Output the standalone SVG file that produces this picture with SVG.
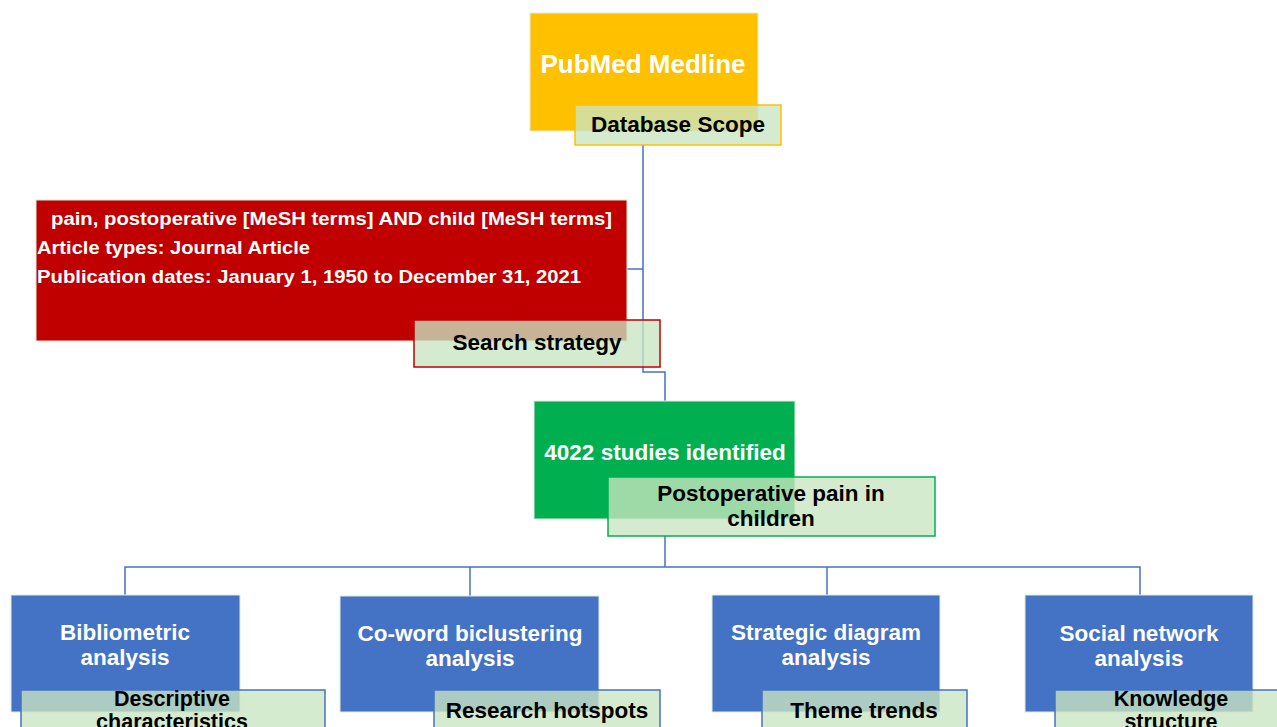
<svg xmlns="http://www.w3.org/2000/svg" width="1277" height="727" viewBox="0 0 1277 727">
<style>
.box{stroke:#e2ecd8;stroke-width:1}
.lbl{fill:#c9e6c2;fill-opacity:0.78;stroke-width:1.5}
.wt{font-family:"Liberation Sans",Arial,sans-serif;font-weight:bold;fill:#ffffff;text-anchor:middle}
.bt{font-family:"Liberation Sans",Arial,sans-serif;font-weight:bold;fill:#000000;text-anchor:middle;font-size:22.5px}
.bt2{font-size:21.5px}
.rt{font-family:"Liberation Sans",Arial,sans-serif;font-weight:bold;fill:#ffffff;font-size:18px}
.conn{fill:none;stroke:#4472c4;stroke-width:1.5}
</style>
<rect width="1277" height="727" fill="#ffffff"/>
<g id="connectors">
<path class="conn" d="M643,145 V372 H665 V401"/>
<path class="conn" d="M627,269 H643"/>
<path class="conn" d="M665,536 V567"/>
<path class="conn" d="M125,595 V567 H1140 V595"/>
<path class="conn" d="M470,567 V596"/>
<path class="conn" d="M827,567 V595"/>
</g>
<g id="pubmed">
<rect class="box" x="530" y="13" width="228" height="118" fill="#ffc000"/>
<text class="wt" x="643" y="73" font-size="26">PubMed Medline</text>
</g>
<g id="database-scope">
<rect class="lbl" x="575" y="105" width="206" height="40" stroke="#ffc000"/>
<text class="bt" x="678" y="132">Database  Scope</text>
</g>
<g id="search-terms">
<rect class="box" x="36" y="200" width="591" height="141" fill="#c00000"/>
<text class="rt" x="51" y="225" textLength="561" lengthAdjust="spacingAndGlyphs">pain, postoperative [MeSH terms] AND child [MeSH terms]</text>
<text class="rt" x="37" y="254" textLength="273" lengthAdjust="spacingAndGlyphs">Article types: Journal Article</text>
<text class="rt" x="37" y="283" textLength="544" lengthAdjust="spacingAndGlyphs">Publication dates: January 1, 1950 to December 31, 2021</text>
</g>
<g id="search-strategy">
<rect class="lbl" x="414" y="320" width="246" height="47" stroke="#c00000"/>
<text class="bt" x="537" y="350">Search strategy</text>
</g>
<g id="studies">
<rect class="box" x="534" y="401" width="261" height="118" fill="#00b050"/>
<text class="wt" x="665" y="460" font-size="22.5">4022 studies identified</text>
</g>
<g id="postoperative-pain">
<rect class="lbl" x="608" y="477" width="327" height="59" stroke="#00b050"/>
<text class="bt" x="771" y="501">Postoperative  pain  in</text>
<text class="bt" x="771" y="526">children</text>
</g>
<g id="bibliometric">
<rect class="box" x="11" y="595" width="229" height="117" fill="#4472c4"/>
<text class="wt" x="125" y="640" font-size="22.5">Bibliometric</text>
<text class="wt" x="125" y="665" font-size="22.5">analysis</text>
</g>
<g id="descriptive">
<rect class="lbl" x="21" y="690" width="304" height="50" stroke="#4472c4"/>
<text class="bt bt2" x="172" y="706">Descriptive</text>
<text class="bt bt2" x="172" y="729">characteristics</text>
</g>
<g id="coword">
<rect class="box" x="340" y="596" width="259" height="116" fill="#4472c4"/>
<text class="wt" x="470" y="641" font-size="22.5">Co-word biclustering</text>
<text class="wt" x="470" y="666" font-size="22.5">analysis</text>
</g>
<g id="hotspots">
<rect class="lbl" x="434" y="690" width="226" height="50" stroke="#4472c4"/>
<text class="bt" x="547" y="718">Research  hotspots</text>
</g>
<g id="strategic">
<rect class="box" x="712" y="595" width="228" height="117" fill="#4472c4"/>
<text class="wt" x="826" y="640" font-size="22.5">Strategic diagram</text>
<text class="wt" x="826" y="665" font-size="22.5">analysis</text>
</g>
<g id="theme">
<rect class="lbl" x="762" y="690" width="205" height="50" stroke="#4472c4"/>
<text class="bt" x="864" y="718">Theme trends</text>
</g>
<g id="social">
<rect class="box" x="1025" y="595" width="228" height="117" fill="#4472c4"/>
<text class="wt" x="1139" y="641" font-size="22.5">Social network</text>
<text class="wt" x="1139" y="666" font-size="22.5">analysis</text>
</g>
<g id="knowledge">
<rect class="lbl" x="1055" y="690" width="240" height="50" stroke="#4472c4"/>
<text class="bt bt2" x="1171" y="706">Knowledge</text>
<text class="bt bt2" x="1171" y="729">structure</text>
</g>
</svg>
